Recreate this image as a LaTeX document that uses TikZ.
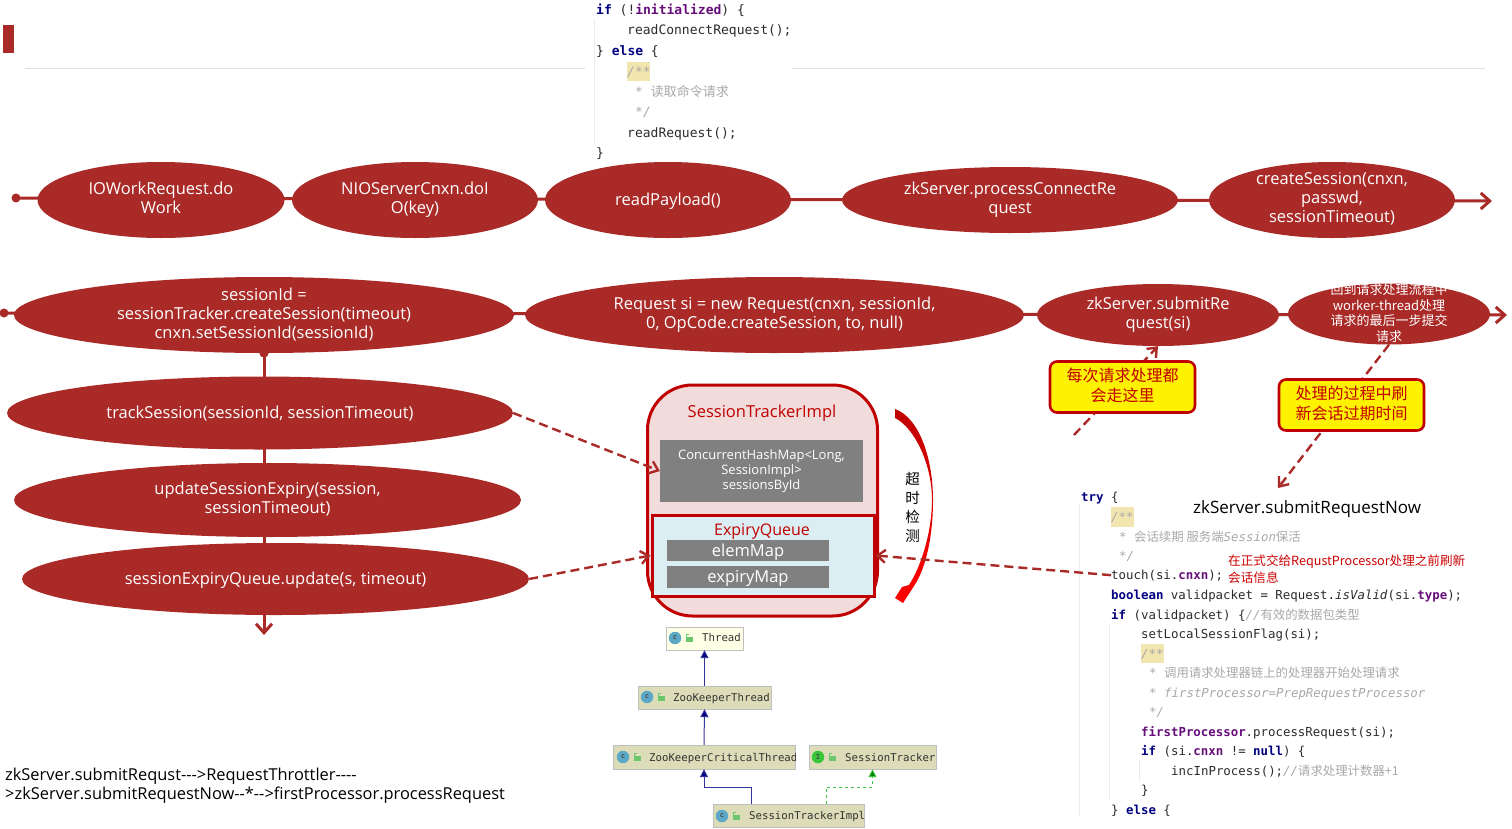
\documentclass[tikz,border=0pt]{standalone}
\usepackage{fontspec}
\setmainfont{Open Sans}
\setmonofont{DejaVu Sans Mono}
\newfontfamily\cjk{Noto Sans CJK SC}
\newfontfamily\cjkit[AutoFakeSlant=0.2]{Noto Sans CJK SC}
\usepackage{xcolor}
\usetikzlibrary{arrows.meta,positioning,shapes.geometric}

\definecolor{flowred}{HTML}{A92A27}
\definecolor{darkred}{HTML}{C00000}
\definecolor{kwblue}{HTML}{000080}
\definecolor{fieldpurple}{HTML}{660E7A}
\definecolor{cmtgrey}{HTML}{A8A8A8}
\definecolor{codetext}{HTML}{2B2B2B}
\definecolor{docyellow}{HTML}{F2E6B0}
\definecolor{umlbody}{HTML}{DCDCB8}
\definecolor{umlpale}{HTML}{FFFFE6}
\definecolor{implpink}{HTML}{F2DCDB}
\definecolor{queueblue}{HTML}{DBEEF4}

\newcommand{\kw}[1]{\textcolor{kwblue}{\bfseries #1}}
\newcommand{\fld}[1]{\textcolor{fieldpurple}{\bfseries #1}}
\newcommand{\cmt}[1]{\textcolor{cmtgrey}{\itshape #1}}
\newcommand{\cmtcn}[1]{\textcolor{cmtgrey}{\cjkit #1}}

\tikzset{
  fixbase/.style={execute at begin node={\rule{0pt}{.95em}}, execute at end node={\rule[-.26em]{0pt}{.26em}}},
  flow/.style={ellipse, fill=flowred, text=white, inner xsep=0pt, inner ysep=-12pt, align=center,
    fixbase, font=\fontsize{16.5}{19}\selectfont},
  chain/.style={flowred, line width=3pt},
  chainarrow/.style={chain, -{Straight Barb[length=9pt,width=16pt,line width=3pt]}},
  calllink/.style={flowred, line width=2.4pt, dash pattern=on 9pt off 5pt,
    -{Straight Barb[length=8pt,width=13pt,line width=2.4pt]}},
  dot/.style={circle, fill=flowred, inner sep=0pt, minimum size=9pt},
  notebox/.style={rectangle, rounded corners=7pt, draw=darkred, fill=yellow, line width=2.6pt,
    text=darkred, align=center, inner sep=0pt, minimum width=145pt, fixbase,
    minimum height=51pt, font=\cjk\fontsize{16}{20}\selectfont},
  greybox/.style={rectangle, fill=gray, text=white, align=center, inner sep=0pt, fixbase},
  code/.style={anchor=base west, inner sep=0pt, text=codetext, font=\fontsize{13}{15}\ttfamily},
  codeb/.style={code, font=\fontsize{12.4}{15}\ttfamily},
  umlbox/.style={rectangle, fill=umlbody, draw=black!25, inner sep=0pt},
  umltext/.style={anchor=base west, inner sep=0pt, text=black!80, font=\fontsize{10.7}{12}\ttfamily},
  umlextends/.style={kwblue!80!white, line width=1pt, -{Triangle[length=8pt,width=8pt,fill=kwblue]}},
  umlimpl/.style={green!50!gray, line width=1pt, dashed,
    -{Triangle[length=8pt,width=8pt,fill=green!50!black]}},
}

\begin{document}
\begin{tikzpicture}[x=1pt,y=-1pt]
    \useasboundingbox (0,0) rectangle (1512,828);

    % Header
    \fill[flowred] (3,25) rectangle (14,53);
    \draw[black!12] (25,68) -- (585,68);
    \draw[black!12] (792,68) -- (1485,68);

    % Code on top
    \fill[docyellow] (627,62) rectangle (650,81);
    \draw[black!8] (594,20) -- (594,145);
    \node[code] (top1) at (596,14) {\kw{if} (!\fld{initialized}) \{};
    \node[code] (top2) at (627,34) {readConnectRequest();};
    \node[code] (top3) at (596,55) {\} \kw{else} \{};
    \node[code] (top4) at (627,76) {\cmt{/**}};
    \node[code] (top5) at (635,96) {\cmt{*} \cmtcn{读取命令请求}};
    \node[code] (top6) at (635,116) {\cmt{*/}};
    \node[code] (top7) at (627,137) {readRequest();};
    \node[code] (top8) at (596,157) {\}};

    % First row
    \node[dot] (start1) at (16,198) {};
    \coordinate (end1) at (1492,201);
    \draw[chainarrow] (start1.center) -- (end1);
    \node[flow, minimum width=247pt, minimum height=76pt] (iowork) at (161,200) {IOWorkRequest.do\\Work};
    \node[flow, minimum width=246pt, minimum height=76pt] (doio) at (415,200) {NIOServerCnxn.doI\\O(key)};
    \node[flow, minimum width=246pt, minimum height=76pt] (payload) at (668,200) {readPayload()};
    \node[flow, minimum width=336pt, minimum height=66pt] (connect) at (1010,200) {zkServer.processConnectRe\\quest};
    \node[flow, minimum width=246pt, minimum height=76pt] (create) at (1332,200) {createSession(cnxn,\\passwd,\\sessionTimeout)};

    % Second row
    \node[dot] (start2) at (4,313) {};
    \coordinate (end2) at (1507,315);
    \draw[chainarrow] (start2.center) -- (end2);

    % Column below sessionId
    \node[dot] (start3) at (264,353) {};
    \coordinate (end3) at (264,635);
    \draw[chainarrow] (start3.center) -- (end3);

    \coordinate (free1) at (1074,435);
    \coordinate (free2) at (1278,488);

    \node[flow, minimum width=500pt, minimum height=76pt] (sessid) at (264,315)
        {sessionId =\\sessionTracker.createSession(timeout)\\cnxn.setSessionId(sessionId)};
    \node[flow, minimum width=499pt, minimum height=76pt] (request) at (774.5,315)
        {Request si = new Request(cnxn, sessionId,\\0, OpCode.createSession, to, null)};
    \node[flow, minimum width=242pt, minimum height=62pt] (submit) at (1158,315) {zkServer.submitRe\\quest(si)};
    \node[flow, minimum width=202pt, minimum height=61pt, font=\cjk\fontsize{13}{15.5}\selectfont] (worker) at (1389,314)
        {回到请求处理流程中\\worker-thread处理\\请求的最后一步提交\\请求};
    \node[flow, minimum width=506pt, minimum height=73pt] (track) at (260,413) {trackSession(sessionId, sessionTimeout)};
    \node[flow, minimum width=507pt, minimum height=74pt] (update) at (267.5,500) {updateSessionExpiry(session,\\sessionTimeout)};
    \node[flow, minimum width=507pt, minimum height=72pt] (queue) at (275.5,579) {sessionExpiryQueue.update(s, timeout)};
    \node[dot] at (start3) {};

    \draw[calllink] (free1) -- (submit.south);
    \draw[calllink] (worker.south) -- (free2);

    % Yellow notes
    \node[notebox] (note1) at (1122.5,387) {每次请求处理都\\会走这里};
    \node[notebox] (note2) at (1351.5,405) {处理的过程中刷\\新会话过期时间};

    % SessionTrackerImpl
    \node[rectangle, rounded corners=45pt, draw=darkred, fill=implpink, line width=3pt,
        minimum width=230pt, minimum height=231pt, inner sep=0pt] (impl) at (762.5,500.5) {};
    \node[inner sep=0pt, text=darkred, font=\fontsize{16.5}{19}\selectfont] (impltitle) at (762,413.5) {SessionTrackerImpl};
    \node[greybox, minimum width=203pt, minimum height=62pt, font=\fontsize{13}{15}\selectfont] (byid) at (761.5,471)
        {ConcurrentHashMap<Long,\\SessionImpl>\\sessionsById};
    \node[rectangle, draw=darkred, fill=queueblue, line width=3pt, minimum width=222pt,
        minimum height=81pt, inner sep=0pt] (expiry) at (763,555.5) {};
    \node[inner sep=0pt, text=darkred, font=\fontsize{16}{19}\selectfont] (expirytitle) at (762,532) {ExpiryQueue};
    \node[greybox, minimum width=162pt, minimum height=21pt, font=\fontsize{16.5}{19}\selectfont] (elem) at (748,550.5) {elemMap};
    \node[greybox, minimum width=162pt, minimum height=22pt, font=\fontsize{16.5}{19}\selectfont] (expmap) at (748,577) {expiryMap};

    % Dashed calls into the tracker
    \draw[calllink] (track.east) -- (byid.west);
    \draw[calllink] (queue.east) -- (expiry.west);

    % Timeout arc
    \shade[top color=darkred, middle color=red!35, bottom color=red]
        (895,409) .. controls (920,418) and (933,460) .. (933,500)
        .. controls (933,530) and (928,565) .. (914,586)
        -- (903,603) -- (895,598) -- (902,587) -- (909,585)
        .. controls (922,565) and (932,530) .. (932,500)
        .. controls (932,465) and (915,428) .. (895,418) -- cycle;
    \node[align=center, inner sep=0pt, font=\cjk\fontsize{14.5}{19}\selectfont] (timeout) at (912.5,507.5) {超\\时\\检\\测};

    % Code on the right
    \fill[docyellow] (1111,507) rectangle (1134,527);
    \fill[docyellow] (1141,644) rectangle (1164,663);
    \draw[black!8] (1079,505) -- (1079,815);
    \draw[black!8] (1109,625) -- (1109,800);
    \draw[black!8] (1139,760) -- (1139,780);
    \node[codeb] (try) at (1081,501) {\kw{try} \{};
    \node[codeb] (c1) at (1111,521) {\cmt{/**}};
    \node[codeb] (c2) at (1119,541) {\cmt{*} \cmtcn{会话续期 服务端}\cmt{Session}\cmtcn{保活}};
    \node[codeb] (c3) at (1119,560) {\cmt{*/}};
    \node[codeb] (touch) at (1111,579) {touch(si.\fld{cnxn});};
    \node[codeb] (c5) at (1111,599) {\kw{boolean} validpacket = Request.\textit{isValid}(si.\fld{type});};
    \node[codeb] (c6) at (1111,619) {\kw{if} (validpacket) \{\cmt{//}\cmtcn{有效的数据包类型}};
    \node[codeb] (c7) at (1141,638) {setLocalSessionFlag(si);};
    \node[codeb] (c8) at (1141,658) {\cmt{/**}};
    \node[codeb] (c9) at (1149,677) {\cmt{*} \cmtcn{调用请求处理器链上的处理器开始处理请求}};
    \node[codeb] (c10) at (1149,697) {\cmt{* firstProcessor=PrepRequestProcessor}};
    \node[codeb] (c11) at (1149,716) {\cmt{*/}};
    \node[codeb] (c12) at (1141,736) {\fld{firstProcessor}.processRequest(si);};
    \node[codeb] (c13) at (1141,755) {\kw{if} (si.\fld{cnxn} != \kw{null}) \{};
    \node[codeb] (c14) at (1171,775) {incInProcess();\cmt{//}\cmtcn{请求处理计数器+1}};
    \node[codeb] (c15) at (1141,794) {\}};
    \node[codeb] (c16) at (1111,814) {\} \kw{else} \{};

    \draw[calllink] (touch.west) -- (expiry.east);

    % Labels near the code
    \node[anchor=west, inner sep=0pt, font=\fontsize{17}{20}\selectfont] (nowlabel) at (1193,509) {zkServer.submitRequestNow};
    \node[anchor=north west, align=left, inner sep=0pt, text=red!80!black, font=\cjk\fontsize{12.6}{17}\selectfont] (touchnote) at (1228,555)
        {在正式交给RequstProcessor处理之前刷新\\会话信息};

    % Class hierarchy
    \node[umlbox, fill=umlpale, minimum width=77pt, minimum height=23pt] (thread) at (704.5,638.5) {};
    \node[umlbox, minimum width=133pt, minimum height=23pt] (zkt) at (704.5,697.5) {};
    \node[umlbox, minimum width=182pt, minimum height=24pt] (zkct) at (704,757) {};
    \node[umlbox, minimum width=127pt, minimum height=24pt] (tracker) at (872.5,757) {};
    \node[umlbox, minimum width=151pt, minimum height=23pt] (sti) at (788.5,815.5) {};
    \coordinate (bendL) at (751,787);
    \coordinate (bendR) at (826,787);
    \draw[umlextends] (zkt.north) -- (thread.south);
    \draw[umlextends] (zkct.north) -- (zkt.south);
    \draw[umlextends] (sti.north -| bendL) -- (bendL) -| (zkct.south);
    \draw[umlimpl] (sti.north -| bendR) -- (bendR) -| (tracker.south);

    \node[umltext] (threadtxt) at (702,641) {Thread};
    \node[umltext] (zkttxt) at (673,701) {ZooKeeperThread};
    \begin{scope}
        \clip (zkct.south west) rectangle (zkct.north east);
        \node[umltext] (zkcttxt) at (649,761) {ZooKeeperCriticalThread};
    \end{scope}
    \node[umltext] (trackertxt) at (845,761) {SessionTracker};
    \begin{scope}
        \clip (sti.south west) rectangle (sti.north east);
        \node[umltext] (stitxt) at (749,819) {SessionTrackerImpl};
    \end{scope}

    % Icons
    \foreach \ix/\iy/\ltr/\icol in {675/638/c/cyan!55!gray, 647/697/c/cyan!55!gray, 623/757/c/cyan!55!gray, 818/757/I/green!55!gray, 722/816/c/cyan!55!gray} {
        \node[circle, fill=\icol, inner sep=0pt, minimum size=12.5pt, text=black!70, font=\fontsize{7}{7}\ttfamily\bfseries] (icon\ix) at (\ix,\iy) {\ltr};
        \fill[green!45!gray!80] (\ix+11,\iy-1) rectangle ++(7,5);
        \draw[green!45!gray!80] (\ix+11,\iy-1) -- ++(0,-3) -- ++(3,0);
    }

    % Text at the bottom
    \node[anchor=north west, align=left, inner sep=0pt, font=\fontsize{16.4}{19}\selectfont] (pipeline) at (5,767.5)
        {zkServer.submitRequst-{}-{}-{}>RequestThrottler-{}-{}-{}-\\>zkServer.submitRequestNow-{}-*-{}->firstProcessor.processRequest};
\end{tikzpicture}
\end{document}
